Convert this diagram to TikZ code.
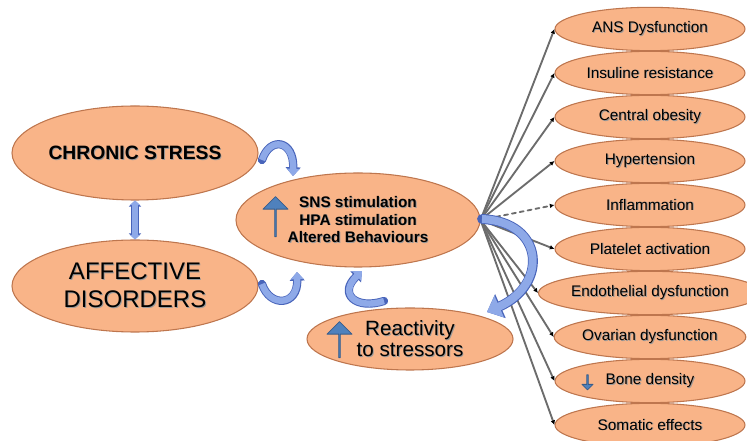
\documentclass[tikz,border=0pt]{standalone}
\usepackage{fontspec}
\setmainfont{Liberation Sans}
\usepackage{tikz}
\usetikzlibrary{arrows.meta, positioning, shapes.geometric, shapes.arrows}
\definecolor{peach}{RGB}{249,180,136}
\definecolor{peachedge}{RGB}{190,118,78}
\definecolor{steelblue}{RGB}{79,129,189}
\definecolor{steeledge}{RGB}{56,93,138}
\definecolor{loopblue}{RGB}{142,169,232}
\definecolor{loopedge}{RGB}{72,100,186}
\definecolor{spoke}{RGB}{108,108,108}
\tikzset{every path/.style={line cap=round, line join=round}}
% text with a soft grey drop shadow
\newcommand{\shd}[1]{\leavevmode\rlap{\kern0.7pt\raisebox{-0.7pt}{\color{black!40}#1}}#1}

\begin{document}
\begin{tikzpicture}[
    x=0.75pt, y=-0.75pt,
    blob/.style={
        ellipse,
        draw=peachedge,
        fill=peach,
        line width=0.8pt,
        inner sep=0pt,
        align=center
    },
    effect/.style={
        blob,
        minimum width=142.5pt,
        minimum height=32.5pt,
        font=\fontsize{11.5}{13}\selectfont
    },
    uparrow/.style={
        single arrow,
        draw=steeledge,
        fill=steelblue,
        line width=0.6pt,
        inner sep=0pt,
        single arrow head extend=4.5pt,
        minimum width=18.75pt,
        minimum height=30pt,
        rotate=90
    },
    spokeline/.style={
        draw=spoke,
        line width=1.4pt,
        -{Latex[length=3.5pt, width=3.5pt, color=black]}
    },
    loop/.style={
        line cap=butt,
        line width=4.8pt,
        draw=loopblue,
        -{Triangle[length=5.5pt, width=9.5pt]},
        preaction={draw=loopedge, line width=6.2pt, -{Triangle[length=6.5pt, width=11pt]}}
    },
    bigloop/.style={
        line cap=butt,
        line width=6pt,
        draw=loopblue,
        -{Triangle[length=10pt, width=17pt]},
        preaction={draw=loopedge, line width=7.4pt, -{Triangle[length=11pt, width=19pt]}}
    },
    twoway/.style={
        line cap=butt,
        line width=4pt,
        draw=loopblue,
        {Triangle[length=3.5pt, width=7.5pt]}-{Triangle[length=3.5pt, width=7.5pt]},
        preaction={draw=loopedge, line width=5.4pt, {Triangle[length=4.5pt, width=9pt]}-{Triangle[length=4.5pt, width=9pt]}}
    }
]
\useasboundingbox (0,0) rectangle (747,441);

% left side
\node[blob, minimum width=184.5pt, minimum height=70.5pt, font=\fontsize{14.5}{17}\selectfont\bfseries] (cs) at (135,153) {\shd{CHRONIC STRESS}};
\node[blob, minimum width=184.5pt, minimum height=69pt, font=\fontsize{18}{21}\selectfont] (ad) at (135,286) {\shd{AFFECTIVE}\\\shd{DISORDERS}};

% middle
\node[blob, minimum width=183pt, minimum height=70.5pt, font=\fontsize{11.5}{12.8}\selectfont\bfseries] (sns) at (358,220) {\shd{SNS stimulation}\\\shd{HPA stimulation}\\\shd{Altered Behaviours}};
\node[blob, minimum width=154.5pt, minimum height=46.5pt, font=\fontsize{15.5}{16}\selectfont] (rs) at (410,339) {\shd{Reactivity}\\\shd{to stressors}};

\node[uparrow] (snsup) at (275.5,217) {};
\node[uparrow, minimum height=27pt] (rsup) at (339.5,340) {};

% effects
\foreach \lbl [count=\i from 0] in {ANS Dysfunction, Insuline resistance, Central obesity, Hypertension, Inflammation, Platelet activation, Endothelial dysfunction, Ovarian dysfunction, Bone density, Somatic effects}
    \node[effect] (e\i) at (650,29+44*\i) {\shd{\lbl}};

\node[uparrow, rotate=180, minimum width=8.25pt, minimum height=11.25pt, single arrow head extend=1.9pt] (bonedown) at (587.5,382) {};

\foreach \i in {0,1,2,3,5,6,7,8,9}
    \draw[spokeline] (sns.east) -- (e\i.west);
\draw[spokeline, dashed] (sns.east) -- (e4.west);

% feedback arrows
\coordinate (csout) at (262,160);
\coordinate (snsin) at (293,176);
\coordinate (adout) at (262,284);
\coordinate (snsin2) at (297,272);
\coordinate (rsout) at (384,301);
\coordinate (snsin3) at (362,271);
\coordinate (snsout) at (482,219);
\coordinate (rsin) at (487,312);

\draw[loop] (csout) .. controls (270,136) and (294,140) .. (snsin);
\draw[loop] (adout) .. controls (270,308) and (298,306) .. (snsin2);
\draw[loop] (rsout) .. controls (356,310) and (338,294) .. (snsin3);
\draw[bigloop] (snsout) .. controls (545,222) and (548,285) .. (rsin);

\draw[twoway] (cs.south) -- (ad.north);

\end{tikzpicture}
\end{document}
